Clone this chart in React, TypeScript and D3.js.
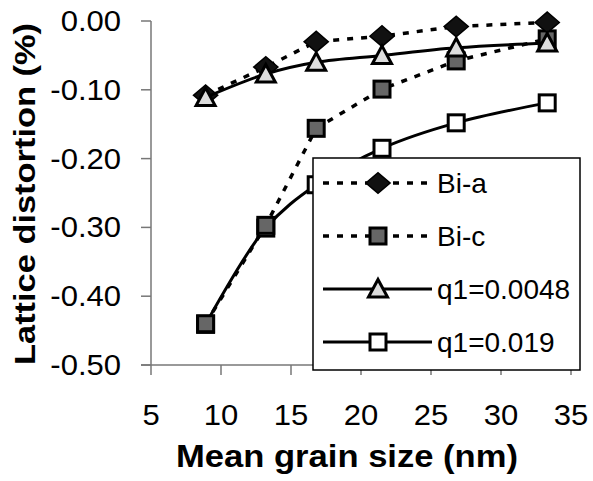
import * as d3 from 'd3';

const grainSize = [8.9, 13.2, 16.8, 21.5, 26.8, 33.3];
const biA = [-0.108, -0.067, -0.03, -0.022, -0.008, -0.002];
const biC = [-0.44, -0.297, -0.156, -0.099, -0.058, -0.026];
const q1Low = [-0.111, -0.077, -0.06, -0.05, -0.039, -0.032];
const q1High = [-0.441, -0.301, -0.238, -0.185, -0.148, -0.119];

const xTicks = [5, 10, 15, 20, 25, 30, 35];
const yTicks = [0, -0.1, -0.2, -0.3, -0.4, -0.5];

const legendLabels = ['Bi-a', 'Bi-c', 'q1=0.0048', 'q1=0.019'];

const W = 593;
const H = 481;
const FONT = '"Liberation Sans", Arial, sans-serif';
const STRETCH = 1.07;

const x = d3.scaleLinear().domain([5, 35]).range([151, 571]);
const y = d3.scaleLinear().domain([-0.5, 0]).range([365, 21]);

type Marker = 'diamond' | 'square' | 'triangle' | 'open';

function MarkerShape({ kind, cx, cy }: { kind: Marker; cx: number; cy: number }) {
  if (kind === 'diamond') {
    const p = d3.symbol(d3.symbolDiamond2, 320)() || '';
    return <path d={p} transform={`translate(${cx},${cy}) scale(1.08,0.92)`} fill="#111" stroke="#000" strokeWidth={1.5} />;
  }
  if (kind === 'triangle') {
    const s = 9.5;
    const d = `M${cx},${cy - s}L${cx + s},${cy + s * 0.85}L${cx - s},${cy + s * 0.85}Z`;
    return <path d={d} fill="#ddd" stroke="#000" strokeWidth={3} strokeLinejoin="miter" />;
  }
  const half = 8;
  return (
    <rect
      x={cx - half}
      y={cy - half}
      width={half * 2}
      height={half * 2}
      fill={kind === 'square' ? '#666' : '#fff'}
      stroke="#000"
      strokeWidth={3}
    />
  );
}

const straight = d3
  .line<number>()
  .x((_, i) => x(grainSize[i]))
  .y((v) => y(v));

const smooth = d3
  .line<number>()
  .x((_, i) => x(grainSize[i]))
  .y((v) => y(v))
  .curve(d3.curveCatmullRom.alpha(0.5));

const series = [
  { label: legendLabels[3], values: q1High, marker: 'open' as Marker, dashed: false, legendIdx: 3 },
  { label: legendLabels[1], values: biC, marker: 'square' as Marker, dashed: true, legendIdx: 1 },
  { label: legendLabels[0], values: biA, marker: 'diamond' as Marker, dashed: true, legendIdx: 0 },
  { label: legendLabels[2], values: q1Low, marker: 'triangle' as Marker, dashed: false, legendIdx: 2 }
];

const DASH = '6,8';

export default function App() {
  const legendX = 313;
  const legendY = 158;
  const rowGap = 53;

  return (
    <svg width={W} height={H} style={{ position: 'absolute', left: 0, top: 0, background: '#fff' }} fontFamily={FONT}>
      <rect width={W} height={H} fill="#fff" />

      {/* axes */}
      <g stroke="#777" strokeWidth={1.5}>
        <line x1={x(5)} x2={x(5)} y1={y(0)} y2={y(-0.5)} />
        <line x1={x(5) - 10} x2={x(35)} y1={y(-0.5)} y2={y(-0.5)} />
        {yTicks.map((t) => (
          <line key={t} x1={x(5) - 10} x2={x(5)} y1={y(t)} y2={y(t)} />
        ))}
        {xTicks.map((t) => (
          <line key={t} x1={x(t)} x2={x(t)} y1={y(-0.5)} y2={y(-0.5) + 10} />
        ))}
      </g>

      {yTicks.map((t) => (
        <text
          key={t}
          transform={`translate(121,${y(t) + 10}) scale(${STRETCH},1)`}
          textAnchor="end"
          fontSize={29}
          fill="#000"
        >
          {t.toFixed(2).replace('-0.00', '0.00')}
        </text>
      ))}
      {xTicks.map((t) => (
        <text
          key={t}
          transform={`translate(${x(t)},425) scale(${STRETCH},1)`}
          textAnchor="middle"
          fontSize={29}
          fill="#000"
        >
          {t}
        </text>
      ))}

      <text
        x={347}
        y={467}
        textAnchor="middle"
        fontSize={31}
        fontWeight="bold"
        textLength={342}
        lengthAdjust="spacingAndGlyphs"
      >
        Mean grain size (nm)
      </text>
      <text
        transform="translate(35,194) rotate(-90)"
        textAnchor="middle"
        fontSize={29}
        fontWeight="bold"
        textLength={342}
        lengthAdjust="spacingAndGlyphs"
      >
        Lattice distortion (%)
      </text>

      {/* series */}
      {series.map((s) => (
        <g key={s.label}>
          <path
            d={(s.dashed ? straight : smooth)(s.values) || ''}
            fill="none"
            stroke="#000"
            strokeWidth={s.dashed ? 3.5 : 3}
            strokeDasharray={s.dashed ? DASH : undefined}
          />
          {s.values.map((v, i) => (
            <MarkerShape key={i} kind={s.marker} cx={x(grainSize[i])} cy={y(v)} />
          ))}
        </g>
      ))}

      {/* legend */}
      <rect x={legendX} y={legendY} width={267} height={212} fill="#fff" stroke="#000" strokeWidth={1.5} />
      {legendLabels.map((label, i) => {
        const s = series.find((d) => d.legendIdx === i)!;
        const cy = legendY + 25 + i * rowGap;
        return (
          <g key={label}>
            <line
              x1={323}
              x2={432}
              y1={cy}
              y2={cy}
              stroke="#000"
              strokeWidth={s.dashed ? 3.5 : 3}
              strokeDasharray={s.dashed ? DASH : undefined}
            />
            <MarkerShape kind={s.marker} cx={378} cy={cy} />
            <text x={437} y={cy + 10} fontSize={28} fill="#000">
              {label}
            </text>
          </g>
        );
      })}
    </svg>
  );
}
